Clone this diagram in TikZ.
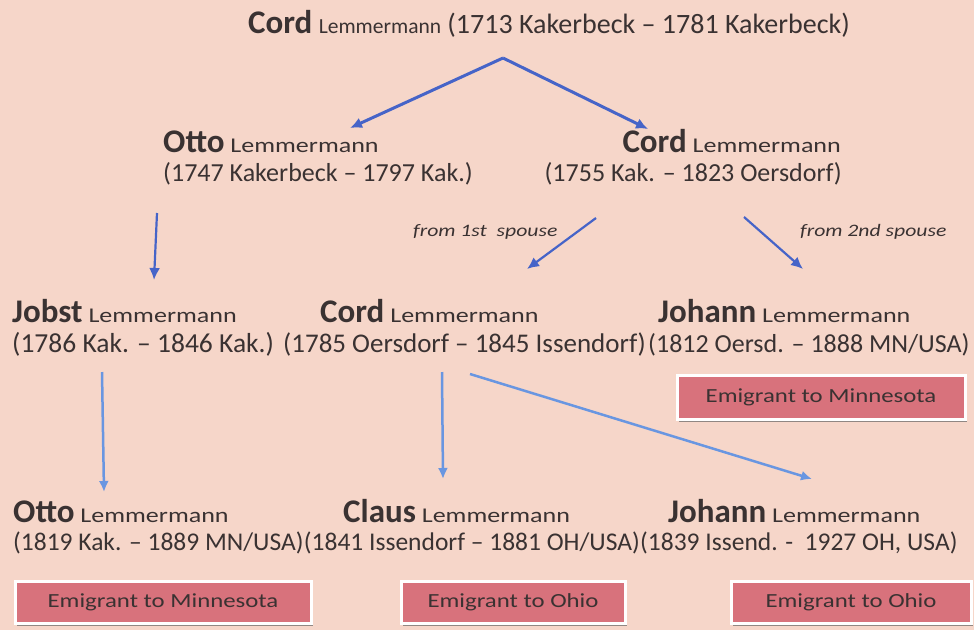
\documentclass[tikz,border=0pt]{standalone}
\usepackage{fontspec}
\setmainfont{Carlito}
\newfontfamily\widefont[FakeStretch=1.24]{Carlito}
\usetikzlibrary{shadows,arrows.meta}
\definecolor{bg}{RGB}{246,214,201}
\definecolor{boxred}{RGB}{216,114,124}
\definecolor{txt}{RGB}{58,50,50}
\definecolor{arrdark}{RGB}{70,100,200}
\definecolor{arrlight}{RGB}{105,150,225}
\newcommand{\nmb}[1]{{\fontsize{33}{36}\selectfont\bfseries #1}}
\newcommand{\snw}{{\widefont\fontsize{21}{25}\selectfont Lemmermann}}
\tikzset{
  ln/.style={inner sep=0pt, text=txt, font=\fontsize{26}{30}\selectfont},
  lnw/.style={ln, anchor=base west},
  lne/.style={ln, anchor=base east},
  lbl/.style={inner sep=0pt, text=txt, font=\widefont\fontsize{17.5}{20}\selectfont\itshape, anchor=base west},
  arrA/.style={draw=arrdark, line width=3pt, -{Latex[length=12pt,width=11pt]}},
  arrB/.style={draw=arrlight, line width=2.5pt, -{Latex[length=11pt,width=10pt]}},
  embox/.style={draw=white, line width=3pt, fill=boxred, text=txt, inner sep=0pt,
     font=\widefont\fontsize{20}{24}\selectfont,
     drop shadow={shadow xshift=2pt, shadow yshift=-2.5pt, fill=black!60, opacity=0.7}},
}
\begin{document}
\begin{tikzpicture}[x=1pt,y=-1pt]
\useasboundingbox[fill=bg] (0,0) rectangle (974,630);
% level 1
\node[lnw, font=\fontsize{28}{30}\selectfont] (c1) at (248,33) {\nmb{Cord} {\fontsize{21.5}{25}\selectfont Lemmermann} (1713 Kakerbeck -- 1781 Kakerbeck)};
% level 2
\node[lnw] (o2a) at (163,152) {\nmb{Otto} \snw};
\node[lnw] (o2b) at (163,181) {(1747 Kakerbeck -- 1797 Kak.)};
\node[lne] (c2a) at (841,152) {\nmb{Cord} \snw};
\node[lne] (c2b) at (842,181) {(1755 Kak. -- 1823 Oersdorf)};
% labels
\node[lbl] (l1) at (413,236) {from 1st\ \ spouse};
\node[lbl] (l2) at (800,236) {from 2nd spouse};
% level 3
\node[lnw] (j3a) at (12,322) {\nmb{Jobst} \snw};
\node[lnw, font=\fontsize{27.5}{30}\selectfont] (j3b) at (12,352) {(1786 Kak. -- 1846 Kak.)};
\node[lnw] (c3a) at (320,322) {\nmb{Cord} \snw};
\node[lnw, font=\fontsize{27}{30}\selectfont] (c3b) at (283,352) {(1785 Oersdorf -- 1845 Issendorf)};
\node[lnw] (h3a) at (658,322) {\nmb{Johann} \snw};
\node[lnw] (h3b) at (648,352) {(1812 Oersd. -- 1888 MN/USA)};
\node[embox, minimum width=288pt, minimum height=44pt] (b3) at (821,397) {Emigrant to Minnesota};
% level 4
\node[lnw] (o4a) at (13,522) {\nmb{Otto} \snw};
\node[lnw, font=\fontsize{25.5}{30}\selectfont] (o4b) at (13,550) {(1819 Kak. -- 1889 MN/USA)};
\node[lnw] (k4a) at (343,522) {\nmb{Claus} \snw};
\node[lnw, font=\fontsize{25.5}{30}\selectfont] (k4b) at (o4b.base east) {(1841 Issendorf -- 1881 OH/USA)};
\node[lnw] (h4a) at (668,522) {\nmb{Johann} \snw};
\node[lnw, font=\fontsize{25.5}{30}\selectfont] (h4b) at (k4b.base east) {(1839 Issend. -\ \ 1927 OH, USA)};
\node[embox, minimum width=296pt, minimum height=42pt] (b4a) at (163,602) {Emigrant to Minnesota};
\node[embox, minimum width=224pt, minimum height=42pt] (b4b) at (513,602) {Emigrant to Ohio};
\node[embox, minimum width=240pt, minimum height=42pt] (b4c) at (851,602) {Emigrant to Ohio};
% arrow coordinates
\coordinate (t0) at (503,58);
\coordinate (t1) at (350,128);
\coordinate (t2) at (648,129);
\coordinate (oa) at (157,213);
\coordinate (ob) at (154,280);
\coordinate (sa) at (596,218);
\coordinate (sb) at (527,269);
\coordinate (sc) at (744,217);
\coordinate (sd) at (803,269);
\coordinate (ja) at (102,372);
\coordinate (jb) at (104,492);
\coordinate (ca) at (442,372);
\coordinate (cb) at (443,479);
\coordinate (cc) at (470,374);
\coordinate (cd) at (812,479);
\draw[arrA] (t0) -- (t1);
\draw[arrA] (t0) -- (t2);
\draw[arrA, line width=2.2pt] (oa) -- (ob);
\draw[arrA, line width=2.2pt] (sa) -- (sb);
\draw[arrA, line width=2.2pt] (sc) -- (sd);
\draw[arrB] (ja) -- (jb);
\draw[arrB] (ca) -- (cb);
\draw[arrB] (cc) -- (cd);
\end{tikzpicture}
\end{document}
